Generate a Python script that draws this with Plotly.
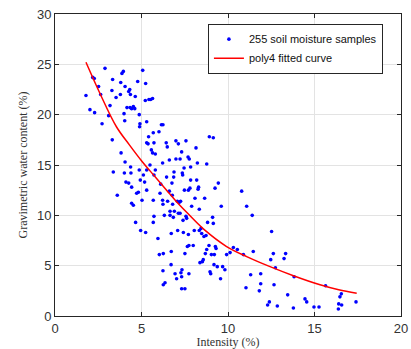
import plotly.graph_objects as go

# Scatter samples: intensity (%) and gravimetric water content (%)
intensity = [1.79,2.02,2.29,2.18,2.27,2.52,2.64,2.72,2.89,3.10,3.18,3.31,3.37,3.33,3.29,3.53,3.60,3.78,3.80,3.87,
             3.95,4.05,3.99,4.03,3.82,4.05,4.01,4.10,4.16,4.26,4.32,4.34,4.43,4.53,4.61,4.37,4.39,4.43,4.53,4.43,
             4.26,4.36,4.64,4.72,4.82,4.66,4.78,4.87,4.91,4.89,4.87,4.93,4.95,5.07,5.03,5.11,5.18,5.24,5.22,5.30,
             5.24,5.43,5.53,5.64,5.30,5.38,5.41,5.30,5.49,5.30,5.57,5.64,5.68,5.72,5.80,5.72,5.80,5.68,5.72,5.68,
             5.95,6.01,6.15,6.24,6.11,6.07,6.03,6.22,6.22,6.24,6.26,6.24,6.26,6.36,6.32,6.43,6.49,6.45,6.51,6.61,
             6.61,6.65,6.65,6.71,6.72,6.72,6.76,6.78,6.80,6.84,6.88,6.86,6.90,6.94,6.99,6.99,7.03,7.07,7.09,7.13,
             7.13,7.19,7.23,7.23,7.26,7.28,7.32,7.32,7.34,7.32,7.36,7.38,7.40,7.42,7.46,7.48,7.51,7.51,7.57,7.57,
             7.61,7.65,7.69,7.71,7.71,7.74,7.74,7.76,7.80,7.84,7.84,7.90,7.99,8.05,8.09,8.15,8.19,8.23,8.27,8.30,
             8.34,8.34,8.38,8.44,8.48,8.52,8.57,8.61,8.65,8.69,8.73,8.77,8.77,8.82,8.90,8.92,8.96,9.00,9.04,9.11,
             9.15,9.15,9.19,9.21,9.25,9.27,9.31,9.38,9.44,9.57,9.61,9.69,9.82,9.92,10.12,10.31,10.54,10.79,10.89,11.04,
             11.08,11.31,11.40,11.46,11.81,11.89,11.89,12.29,12.39,12.47,12.52,12.62,12.66,12.74,12.85,13.24,13.33,13.45,13.78,13.82,
             14.45,14.55,14.97,15.26,15.64,16.38,16.40,16.47,16.55,16.57,17.40]
water = [21.9,20.5,20.2,23.7,23.6,22.8,22.0,19.1,24.6,19.9,20.9,17.5,14.3,23.5,22.4,21.7,12.0,22.0,23.2,24.1,
         24.3,22.8,20.1,19.4,16.2,15.3,14.2,13.3,20.7,22.3,22.5,20.7,20.6,20.8,20.6,14.8,14.2,11.2,11.0,12.8,
         13.2,22.0,21.8,12.2,12.3,9.3,23.3,20.0,19.1,18.8,14.5,13.5,8.5,24.4,11.5,14.0,13.3,23.1,21.4,19.3,
         8.3,21.5,21.5,21.6,17.2,17.1,17.8,14.5,15.0,12.5,16.5,16.2,18.2,17.2,16.1,14.0,14.5,11.5,9.9,9.3,
         7.7,18.3,19.0,19.0,13.1,12.2,6.1,15.2,11.5,11.1,6.2,4.5,3.1,3.3,10.0,17.2,16.8,13.8,11.4,15.5,
         12.4,10.4,10.0,5.1,6.4,8.2,13.2,12.0,11.1,9.8,14.3,13.8,10.4,4.2,17.4,15.6,3.7,11.4,8.5,10.2,
         17.1,11.3,15.6,10.2,11.4,4.3,3.9,2.7,4.6,16.3,14.2,14.0,9.5,8.3,14.7,12.5,6.2,2.7,17.4,9.9,
         9.7,6.9,15.8,12.5,8.1,7.0,4.2,15.6,12.7,14.8,13.5,10.9,7.0,8.5,11.7,16.7,13.5,15.2,12.6,12.8,
         10.6,8.5,5.3,8.7,8.2,5.4,5.6,7.9,11.7,6.2,8.0,15.1,6.6,9.3,7.0,17.8,4.4,4.2,6.1,9.8,
         17.7,9.2,5.1,6.1,12.7,6.9,6.7,4.9,13.2,3.7,10.9,4.9,4.6,6.1,6.3,6.8,6.6,12.4,6.1,2.8,
         10.9,4.1,10.0,6.4,2.5,3.2,4.2,1.1,1.4,5.6,8.4,6.2,3.1,4.8,1.0,5.7,6.2,2.1,0.8,3.9,
         1.7,1.4,0.9,0.9,3.0,0.7,1.2,1.9,2.2,1.1,1.4]

# poly4 fitted curve
curve_x = [1.79,2.60,3.55,4.30,5.01,5.75,6.45,7.00,7.61,8.61,9.92,11.08,12.43,13.78,15.32,16.40,17.44]
curve_y = [25.2,22.1,18.8,17.0,15.4,13.9,12.5,11.4,10.3,8.6,6.9,5.9,4.9,4.0,3.1,2.6,2.25]

x_ticks = [0, 5, 10, 15, 20]
y_ticks = [0, 5, 10, 15, 20, 25, 30]

fig = go.Figure()
fig.add_trace(go.Scatter(x=intensity, y=water, mode="markers",
                         marker=dict(color="#0000ff", size=3.6, symbol="circle"),
                         name="255 soil moisture samples"))
fig.add_trace(go.Scatter(x=curve_x, y=curve_y, mode="lines", line_shape="spline",
                         line=dict(color="#ff0000", width=1.5),
                         name="poly4 fitted curve"))

axis_common = dict(showgrid=True, gridcolor="#e3e3e3", gridwidth=1,
                   showline=True, linecolor="#262626", linewidth=1, mirror="ticks",
                   ticks="inside", ticklen=4, tickcolor="#262626",
                   zeroline=False, automargin=False,
                   tickfont=dict(family="Liberation Sans, Arial", size=13, color="#333333"))

fig.update_layout(
    width=411, height=349,
    margin=dict(l=55, r=10, t=14, b=33),
    paper_bgcolor="white", plot_bgcolor="white",
    showlegend=True,
    legend=dict(x=0.442, y=0.968, xanchor="left", yanchor="top",
                bordercolor="#262626", borderwidth=1, bgcolor="white",
                font=dict(family="Liberation Sans, Arial", size=11, color="#111111"),
                tracegroupgap=0, itemwidth=30),
    xaxis=dict(range=[0, 20], tickvals=x_ticks,
               title=dict(text="Intensity (%)", standoff=4,
                          font=dict(family="Liberation Serif, Times New Roman", size=12, color="#333333")),
               **axis_common),
    yaxis=dict(range=[0, 30], tickvals=y_ticks,
               title=dict(text="Gravimetric water content (%)", standoff=6,
                          font=dict(family="Liberation Serif, Times New Roman", size=12, color="#333333")),
               **axis_common),
)

# remove the page's default body margin so the 411x349 figure fills the window exactly
fig.write_html("out.html",
               config={"displayModeBar": False},
               post_script="document.body.style.margin='0';document.body.style.overflow='hidden';")
